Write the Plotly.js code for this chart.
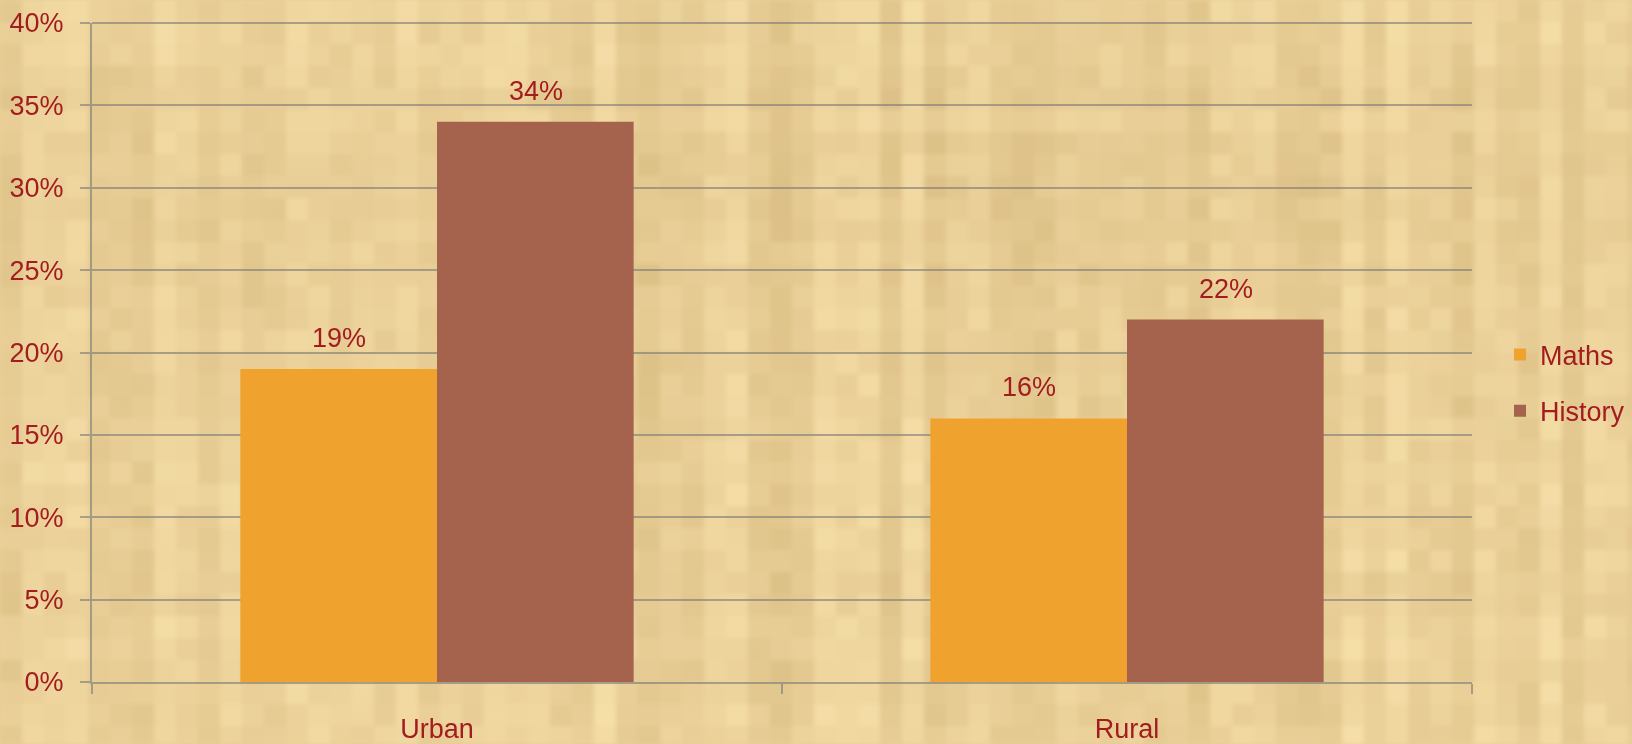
<!DOCTYPE html>
<html>
<head>
<meta charset="utf-8">
<script src="https://cdn.plot.ly/plotly-3.0.1.min.js"></script>
<style>
  html, body { margin: 0; padding: 0; background: #E9CE97; }
  body { width: 1632px; height: 744px; overflow: hidden; position: relative; }
  #bg { position: absolute; left: 0; top: 0; width: 1632px; height: 744px; filter: blur(2px); }
  #chart { position: absolute; left: 0; top: 0; width: 1632px; height: 744px; }
</style>
</head>
<body>
<canvas id="bg" width="1632" height="744"></canvas>
<div id="chart"></div>
<script>
const categories = ["Urban", "Rural"];
const seriesNames = ["Maths", "History"];
const mathsValues = [0.19, 0.16];
const historyValues = [0.34, 0.22];

// ---- decorative parchment background (deterministic pattern, not data) ----
(function drawParchment() {
  const c = document.getElementById('bg');
  const ctx = c.getContext('2d');
  const cw = 22, ch = 22;
  const hash = (a, b) => { const s = Math.sin(a * 127.1 + b * 311.7) * 43758.5453; return s - Math.floor(s); };
  const dark = [218, 190, 132], light = [248, 224, 170];
  for (let i = 0; i * cw < 1632; i++) {
    const col = hash(i, 7.3);
    for (let j = 0; j * ch < 744; j++) {
      const row = hash(3.1, j);
      const cell = hash(i, j);
      const t = Math.min(1, Math.max(0, 0.5 * col + 0.2 * row + 0.3 * cell));
      const r = Math.round(dark[0] + (light[0] - dark[0]) * t);
      const g = Math.round(dark[1] + (light[1] - dark[1]) * t);
      const b = Math.round(dark[2] + (light[2] - dark[2]) * t);
      ctx.fillStyle = 'rgb(' + r + ',' + g + ',' + b + ')';
      ctx.fillRect(i * cw, j * ch, cw, ch);
    }
  }
})();

const FONT = '"Liberation Sans Narrow", "Arial Narrow", "Liberation Sans", Arial, sans-serif';
const TEXT_COLOR = '#A31C20';
const GRID = 'rgba(120,120,120,0.6)';
const colors = ['#F0A22E', '#A5634D'];
const allValues = [mathsValues, historyValues];
const FS = 27;

const traces = seriesNames.map((name, i) => ({
  type: 'bar',
  name: name,
  x: categories,
  y: allValues[i],
  marker: { color: colors[i], line: { width: 0 } },
  legendgroup: name,
  hoverinfo: 'skip'
}));

const annotations = [];
allValues.forEach((vals, si) => {
  vals.forEach((v, ci) => {
    annotations.push({
      x: categories[ci],
      y: v,
      xref: 'x', yref: 'y',
      xshift: (si === 0 ? -1 : 1) * 98.5,
      yshift: 31,
      text: Math.round(v * 100) + '%',
      showarrow: false,
      yanchor: 'middle',
      font: { family: FONT, size: FS, color: TEXT_COLOR }
    });
  });
});

const layout = {
  width: 1632, height: 744,
  margin: { l: 92, r: 160, t: 23, b: 62, autoexpand: false },
  paper_bgcolor: 'rgba(0,0,0,0)',
  plot_bgcolor: 'rgba(0,0,0,0)',
  barmode: 'group',
  bargap: 0.43,
  bargroupgap: 0,
  font: { family: FONT, size: FS, color: TEXT_COLOR },
  xaxis: {
    type: 'category',
    showgrid: false,
    showline: true, linecolor: GRID, linewidth: 2,
    ticks: 'outside', tickson: 'boundaries', ticklen: 10, tickcolor: GRID, tickwidth: 2,
    tickfont: { family: FONT, size: FS, color: TEXT_COLOR },
    ticklabelstandoff: 22,
    zeroline: false,
    automargin: false
  },
  yaxis: {
    range: [0, 0.4],
    dtick: 0.05,
    tickformat: '.0%',
    showgrid: true, gridcolor: GRID, gridwidth: 2,
    showline: true, linecolor: GRID, linewidth: 2,
    ticks: 'outside', ticklen: 10, tickcolor: GRID, tickwidth: 2,
    tickfont: { family: FONT, size: FS, color: TEXT_COLOR },
    ticklabelstandoff: 11,
    zeroline: false,
    automargin: false
  },
  shapes: [{
    type: 'line', xref: 'paper', yref: 'paper',
    x0: 0, x1: 1, y0: 1, y1: 1,
    line: { color: GRID, width: 2 }, layer: 'below'
  }],
  legend: {
    x: 1.0203, xanchor: 'left',
    y: 0.4537, yanchor: 'middle',
    bgcolor: 'rgba(0,0,0,0)',
    borderwidth: 0,
    font: { family: FONT, size: FS, color: TEXT_COLOR },
    tracegroupgap: 18,
    itemwidth: 30
  },
  showlegend: true,
  annotations: annotations
};

Plotly.newPlot('chart', traces, layout, { displayModeBar: false, staticPlot: true });
</script>
</body>
</html>
